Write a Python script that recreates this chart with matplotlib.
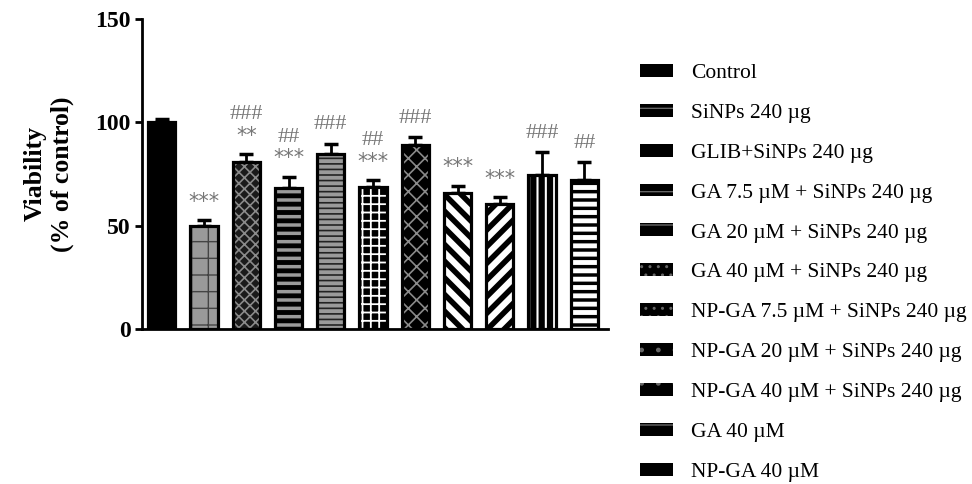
import matplotlib.pyplot as plt
from matplotlib.patches import Patch

plt.rcParams['font.family'] = ['Liberation Serif', 'DejaVu Serif']

groups = ["Control", "SiNPs 240 \u00b5g", "GLIB+SiNPs 240 \u00b5g",
          "GA 7.5 \u00b5M + SiNPs 240 \u00b5g", "GA 20 \u00b5M + SiNPs 240 \u00b5g",
          "GA 40 \u00b5M + SiNPs 240 \u00b5g", "NP-GA 7.5 \u00b5M + SiNPs 240 \u00b5g",
          "NP-GA 20 \u00b5M + SiNPs 240 \u00b5g", "NP-GA 40 \u00b5M + SiNPs 240 \u00b5g",
          "GA 40 \u00b5M", "NP-GA 40 \u00b5M"]
viability = [100, 50, 80.6, 68, 84.7, 68.5, 89, 66, 60.5, 74.7, 72]
sem = [1.5, 2.7, 4, 5.5, 5, 3.5, 3.7, 3.2, 3.2, 10.8, 8.6]
stars = ["", "***", "**", "***", "", "***", "", "***", "***", "", ""]
hashes = ["", "", "###", "##", "###", "##", "###", "", "", "###", "##"]

# (face, hatch colour, hatch, hatch linewidth)
styles = [
    ("black", "black", "", 1),
    ("#9a9a9a", "#444444", "+", 1),
    ("#1a1a1a", "#8a8a8a", "xxx", 1.2),
    ("#9a9a9a", "black", "--", 3.5),
    ("#9a9a9a", "#222222", "---", 1.2),
    ("black", "white", "++", 1.3),
    ("black", "#8a8a8a", "xx", 1.2),
    ("white", "black", "\\\\", 4),
    ("white", "black", "//", 4),
    ("black", "white", "||", 1.5),
    ("black", "white", "--", 3.5),
]

fig = plt.figure(figsize=(9.72, 4.84), dpi=100)
ax = fig.add_axes([0.146, 0.320, 0.479, 0.641])

x = list(range(len(groups)))
w = 0.64
for i in x:
    face, hc, hatch, hlw = styles[i]
    plt.rcParams['hatch.linewidth'] = hlw
    b = ax.bar(i, viability[i], w, color=face, edgecolor=hc, hatch=hatch,
               linewidth=0, zorder=2)
    for p in b:
        if hasattr(p, "set_hatch_linewidth"):
            p.set_hatch_linewidth(hlw)
    ax.bar(i, viability[i], w, fill=False, edgecolor="black", linewidth=2.3, zorder=3)
    ax.errorbar(i, viability[i], yerr=[[0], [sem[i]]], color="black", capsize=5,
                elinewidth=2, capthick=2.5, zorder=1)
    top = viability[i] + sem[i]
    y = top + 9
    if stars[i]:
        ax.text(i, y, stars[i], ha="center", va="center", color="#777777",
                fontsize=15, family="DejaVu Sans")
        y += 10
    if hashes[i]:
        ax.text(i, y, hashes[i], ha="center", va="center", color="#777777",
                fontsize=16)

ax.set_xlim(-0.47, 10.55)
ax.set_ylim(0, 150)
ax.set_yticks([0, 50, 100, 150])
ax.set_xticks([])
for lab in ax.get_yticklabels():
    lab.set_fontweight("bold")
    lab.set_fontsize(17)
ax.tick_params(axis="y", length=5, width=2, pad=3)
ax.spines["top"].set_visible(False)
ax.spines["right"].set_visible(False)
ax.spines["left"].set_linewidth(2)
ax.spines["bottom"].set_linewidth(2)
ax.set_ylabel("Viability\n(% of control)", fontsize=18.5, fontweight="bold")
ax.yaxis.set_label_coords(-0.2, 0.5)
ax.yaxis.label.set_va("center")

plt.rcParams['hatch.linewidth'] = 1
leg_hatches = ["", "-", "-", "-", "-", "..", "..", ".", ".", "-", ""]
handles = [Patch(facecolor="black", edgecolor="#666666", hatch=h, linewidth=0)
           for h in leg_hatches]
fig.legend(handles, groups, loc="upper left", bbox_to_anchor=(0.639, 0.908),
           frameon=False, fontsize=15.5, handlelength=1.5, handleheight=0.55,
           labelspacing=0.965, handletextpad=0.84, borderpad=0.4)

fig.savefig("out.png", dpi=100)
